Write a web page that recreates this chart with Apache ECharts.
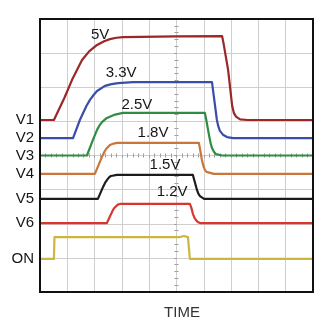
<!DOCTYPE html>
<html>
<head>
<meta charset="utf-8">
<script src="https://cdn.jsdelivr.net/npm/echarts@6/dist/echarts.min.js"></script>
<style>
  html, body { margin: 0; padding: 0; background: #fff; }
  #chart { width: 335px; height: 330px; }
</style>
</head>
<body>
<div id="chart"></div>
<script>
// Scope-style sequencing traces. Time and level are in screen divisions
// measured from the centre of the graticule (10 x 8 divisions).
const channelNames = ['V1', 'V2', 'V3', 'V4', 'V5', 'V6', 'ON'];
const railNames = ['5V', '3.3V', '2.5V', '1.8V', '1.5V', '1.2V'];
const channelColors = ['#9b2727', '#3a4ea8', '#2f8c43', '#c9763a', '#1c1c1c', '#d7362f', '#cdb640'];

const v1 = [[-5, 1.04], [-4.49, 1.04], [-4.1, 1.70], [-3.83, 2.21], [-3.60, 2.58], [-3.46, 2.80], [-3.2, 3.05],
  [-2.91, 3.24], [-2.65, 3.35], [-2.44, 3.41], [-2.2, 3.45], [-1.96, 3.47], [0, 3.49], [1.67, 3.50],
  [1.72, 3.30], [1.89, 2.51], [2.04, 1.45], [2.10, 1.25], [2.18, 1.14], [2.33, 1.06], [2.6, 1.04], [5, 1.04]];
const v2 = [[-5, 0.51], [-3.79, 0.51], [-3.54, 1.04], [-3.30, 1.45], [-3.17, 1.63], [-3.03, 1.78], [-2.91, 1.89],
  [-2.62, 2.04], [-2.38, 2.09], [-2.14, 2.12], [-1.59, 2.15], [1.30, 2.15], [1.34, 1.90], [1.48, 1.04],
  [1.53, 0.86], [1.59, 0.72], [1.70, 0.61], [1.85, 0.54], [2.07, 0.51], [5, 0.51]];
const v3 = [[-5, 0], [-3.28, 0], [-3.08, 0.42], [-2.91, 0.75], [-2.82, 0.88], [-2.73, 0.98], [-2.55, 1.10],
  [-2.25, 1.20], [-1.96, 1.25], [1.04, 1.25], [1.09, 1.05], [1.19, 0.60], [1.25, 0.36], [1.30, 0.22],
  [1.37, 0.11], [1.45, 0.04], [1.67, 0], [5, 0]];
const v4 = [[-5, -0.54], [-2.99, -0.54], [-2.73, -0.04], [-2.64, 0.11], [-2.58, 0.19], [-2.44, 0.31],
  [-2.30, 0.35], [-2.18, 0.37], [0.82, 0.37], [0.86, 0.20], [0.93, -0.13], [0.99, -0.32], [1.04, -0.42],
  [1.10, -0.48], [1.15, -0.51], [1.37, -0.54], [5, -0.54]];
const v5 = [[-5, -1.27], [-2.88, -1.27], [-2.69, -0.92], [-2.60, -0.78], [-2.55, -0.72], [-2.48, -0.65],
  [-2.40, -0.60], [-2.18, -0.57], [0.60, -0.57], [0.65, -0.72], [0.75, -1.01], [0.80, -1.12], [0.86, -1.19],
  [0.93, -1.24], [1.01, -1.27], [5, -1.27]];
const v6 = [[-5, -1.98], [-2.55, -1.98], [-2.33, -1.60], [-2.27, -1.53], [-2.22, -1.48], [-2.15, -1.44],
  [-2.07, -1.42], [0.49, -1.42], [0.54, -1.52], [0.60, -1.71], [0.66, -1.83], [0.71, -1.89], [0.78, -1.95],
  [0.86, -1.98], [5, -1.98]];
const on = [[-5, -3.03], [-4.49, -3.03], [-4.47, -2.39], [0.13, -2.39], [0.27, -2.36], [0.42, -2.39],
  [0.47, -2.39], [0.49, -3.03], [5, -3.03]];
const traces = [v1, v2, v3, v4, v5, v6, on];

// Where each rail's voltage tag sits (centre of the text).
const railTagAnchors = [[-2.80, 3.53], [-2.03, 2.42], [-1.45, 1.48], [-0.86, 0.66], [-0.42, -0.28], [-0.16, -1.07]];

const fontFamily = '"Liberation Sans Narrow", "Liberation Sans", Arial, sans-serif';
const gridColor = '#cfcfcf';
const tickColor = '#9a9a9a';

function centreAxis(extra) {
  return Object.assign({
    type: 'value',
    interval: 1,
    axisLine: { show: true, onZero: true, lineStyle: { color: gridColor, width: 1 } },
    axisTick: { show: true, length: 2, lineStyle: { color: tickColor } },
    minorTick: { show: true, splitNumber: 5, length: 2, lineStyle: { color: tickColor } },
    axisLabel: { show: false },
    splitLine: { show: false }
  }, extra);
}

const xAxes = [
  centreAxis({ min: -5, max: 5, position: 'bottom',
    splitLine: { show: true, lineStyle: { color: gridColor, width: 1 } } }),
  centreAxis({ min: -5, max: 5, position: 'top',
    axisTick: { show: true, inside: true, length: 2, lineStyle: { color: tickColor } },
    minorTick: { show: true, splitNumber: 5, length: -2, lineStyle: { color: tickColor } } })
];
const yAxes = [
  centreAxis({ min: -4, max: 4, position: 'left',
    splitLine: { show: true, lineStyle: { color: gridColor, width: 1 } } }),
  centreAxis({ min: -4, max: 4, position: 'right',
    axisTick: { show: true, inside: true, length: 2, lineStyle: { color: tickColor } },
    minorTick: { show: true, splitNumber: 5, length: -2, lineStyle: { color: tickColor } } })
];

const series = traces.map((pts, i) => {
  const s = {
    name: channelNames[i],
    type: 'line',
    data: pts,
    showSymbol: false,
    symbol: 'none',
    smooth: false,
    lineStyle: { color: channelColors[i], width: 2.2, join: 'round' },
    itemStyle: { color: channelColors[i] },
    animation: false,
    z: 3,
    markPoint: {
      symbol: 'circle',
      symbolSize: 0,
      animation: false,
      label: {
        show: true,
        fontFamily: fontFamily,
        fontSize: 15,
        color: '#151515'
      },
      data: [{
        coord: pts[0],
        value: channelNames[i],
        label: { position: 'left', distance: 6, formatter: channelNames[i] }
      }]
    }
  };
  if (i < railNames.length) {
    s.markPoint.data.push({
      coord: railTagAnchors[i],
      value: railNames[i],
      label: { position: 'inside', formatter: railNames[i] }
    });
  }
  return s;
});

const chart = echarts.init(document.getElementById('chart'), null, { renderer: 'canvas' });
chart.setOption({
  backgroundColor: '#ffffff',
  animation: false,
  grid: { left: 40, top: 19, width: 273, height: 273, show: false },
  title: {
    text: 'TIME',
    left: 177, top: 300, textAlign: 'center',
    textStyle: { fontFamily: fontFamily, fontSize: 15, fontWeight: 'normal', color: '#333333' }
  },
  xAxis: xAxes,
  yAxis: yAxes,
  series: series
});

// Graticule frame, placed from the axis scales.
const corner0 = chart.convertToPixel({ xAxisIndex: 0, yAxisIndex: 0 }, [-5, 4]);
const corner1 = chart.convertToPixel({ xAxisIndex: 0, yAxisIndex: 0 }, [5, -4]);
chart.setOption({
  graphic: [{
    type: 'rect',
    z: 100,
    silent: true,
    shape: { x: corner0[0], y: corner0[1], width: corner1[0] - corner0[0], height: corner1[1] - corner0[1] },
    style: { fill: 'none', stroke: '#111111', lineWidth: 2 }
  }]
});
</script>
</body>
</html>
